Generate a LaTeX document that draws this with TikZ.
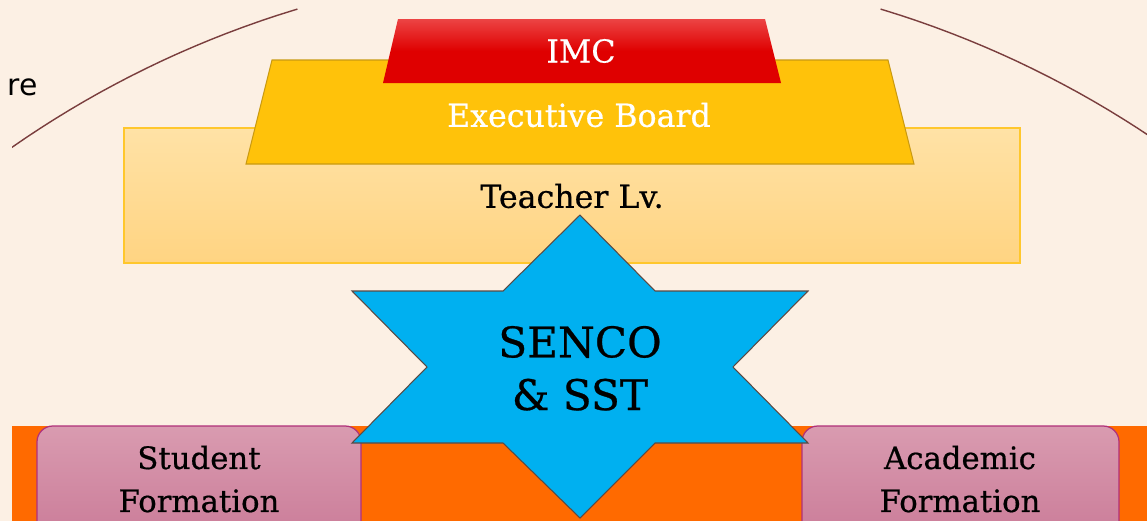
\documentclass[tikz,border=0pt]{standalone}
\usepackage{fontspec}
\setmainfont[FakeBold=0.6]{DejaVu Serif}
\newfontfamily\labelsans{DejaVu Sans}
\definecolor{bgcream}{HTML}{FCF0E4}
\definecolor{arcbrown}{HTML}{7A3E3E}
\definecolor{bandorange}{HTML}{FF6A00}
\definecolor{teachtop}{HTML}{FFE2A6}
\definecolor{teachbot}{HTML}{FFD482}
\definecolor{teachedge}{HTML}{FFC72C}
\definecolor{execfill}{HTML}{FFC20A}
\definecolor{execedge}{HTML}{C99A12}
\definecolor{imctop}{HTML}{EC4444}
\definecolor{imcbot}{HTML}{DF0000}
\definecolor{starblue}{HTML}{00B0F0}
\definecolor{staredge}{HTML}{5A4A44}
\definecolor{boxtop}{HTML}{D99BB0}
\definecolor{boxbot}{HTML}{C87694}
\definecolor{boxedge}{HTML}{B0307A}
\tikzset{
  thinedge/.style={line width=0.6pt},
  formbox/.style={top color=boxtop, bottom color=boxbot, draw=boxedge, line width=0.7pt, rounded corners=9pt},
  slabtext/.style={font=\fontsize{#1}{#1}\selectfont, align=center, inner sep=0pt}
}
\begin{document}
\begin{tikzpicture}[x=0.02cm,y=-0.02cm]
\useasboundingbox (0,0) rectangle (1147,521);
\clip (0,0) rectangle (1147,521);
\fill[bgcream] (0,0) rectangle (1147,521);
% background arc and partial title
\begin{scope}
\clip (12,0) rectangle (1147,521);
\draw[arcbrown, line width=0.8pt, domain=106.8:124.9, samples=60] plot ({589+1009*cos(\x)},{975-1009*sin(\x)});
\draw[arcbrown, line width=0.8pt, domain=50:73.2, samples=60] plot ({589+1009*cos(\x)},{975-1009*sin(\x)});
\end{scope}
\node[anchor=base east, inner sep=0pt, font=\labelsans\fontsize{17}{17}\selectfont] (title) at (38,95) {re};
% orange band
\fill[bandorange] (12,426) rectangle (1147,530);
% teacher level
\shade[top color=teachtop, bottom color=teachbot] (124,128) rectangle (1020,263);
\draw[teachedge, thinedge] (124,128) rectangle (1020,263);
% executive board
\filldraw[fill=execfill, draw=execedge, thinedge] (246,164) -- (272,60) -- (888,60) -- (914,164) -- cycle;
% IMC
\shade[top color=imctop, bottom color=imcbot, middle color=imcbot] (383,83) -- (398,19) -- (765,19) -- (781,83) -- cycle;
% formation boxes
\path[formbox] (37,426) rectangle (361,560);
\path[formbox] (802,426) rectangle (1119,560);
% star
\filldraw[fill=starblue, draw=staredge, thinedge]
  (580,215) -- (655,291) -- (808,291) -- (733,367) -- (808,443) -- (655,443)
  -- (580,518) -- (503,443) -- (352,443) -- (427,367) -- (352,291) -- (503,291) -- cycle;
% texts
\node[slabtext=18, white] (imc) at (581,51) {IMC};
\node[slabtext=18, white] (exec) at (579,115) {Executive Board};
\node[slabtext=18] (teacher) at (572,196) {Teacher Lv.};
\node[slabtext=24, text depth=0pt] (senco) at (580,368) {SENCO\\[6pt]\& SST};
\node[slabtext=17.5] (student) at (199,479) {Student\\[7pt]Formation};
\node[slabtext=17.5] (academic) at (960,479) {Academic\\[7pt]Formation};
\end{tikzpicture}
\end{document}
